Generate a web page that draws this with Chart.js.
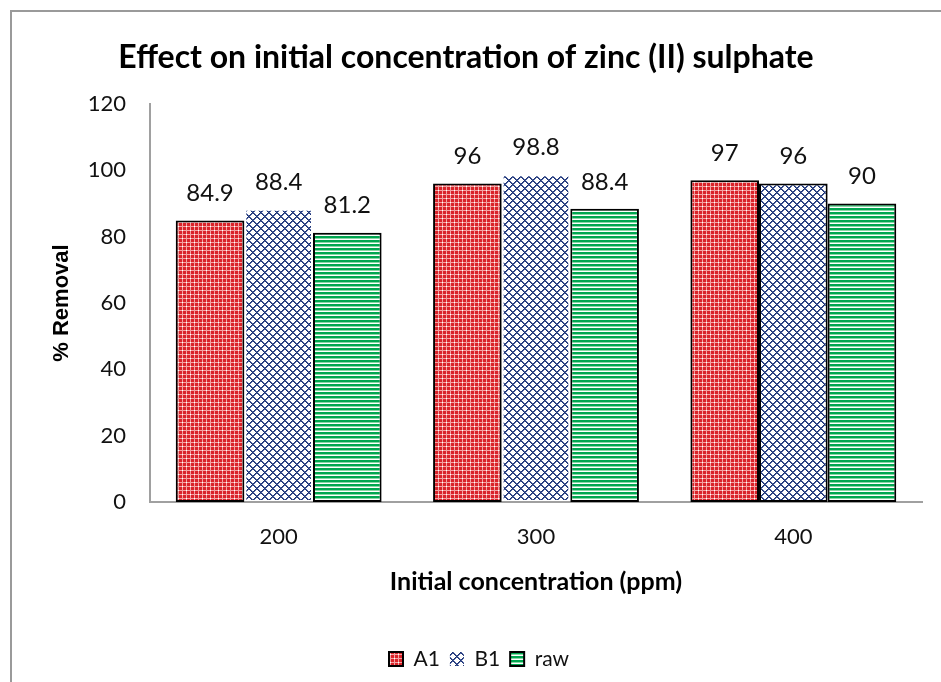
<!DOCTYPE html>
<html>
<head>
<meta charset="utf-8">
<script src="https://cdn.jsdelivr.net/npm/chart.js@4"></script>
<style>
  html, body { margin: 0; padding: 0; background: #ffffff; }
  #wrap { width: 941px; height: 682px; }
</style>
</head>
<body>
<div id="wrap"><canvas id="c" width="941" height="682"></canvas></div>
<script>
// ---- data ----
const categories = ['200', '300', '400'];
const seriesNames = ['A1', 'B1', 'raw'];
const a1Values = [84.9, 96, 97];
const b1Values = [88.4, 98.8, 96];
const rawValues = [81.2, 88.4, 90];
const yTicks = [0, 20, 40, 60, 80, 100, 120];
const chartTitle = 'Effect on initial concentration of zinc (II) sulphate';
const xTitle = 'Initial concentration (ppm)';
const yTitle = '% Removal';

// ---- patterns ----
const canvas = document.getElementById('c');
const ctx = canvas.getContext('2d');
function makePattern(w, h, fn) {
  const c = document.createElement('canvas');
  c.width = w; c.height = h;
  const x = c.getContext('2d');
  for (let j = 0; j < h; j++) {
    for (let i = 0; i < w; i++) {
      const col = fn(i, j);
      if (col) { x.fillStyle = col; x.fillRect(i, j, 1, 1); }
    }
  }
  return ctx.createPattern(c, 'repeat');
}
const patA1 = makePattern(8, 8, (i, j) => {
  if ((i % 8 === 6 && j % 8 === 6) || (i % 8 === 2 && j % 8 === 2)) return '#ffffff';
  if (i % 4 === 2 || j % 4 === 2) return '#f3a3a3';
  return '#d9232a';
});
const patB1 = makePattern(8, 8, (i, j) => {
  const d1 = (i + j) % 8, d2 = (i - j + 8) % 8;
  if (d1 === 0 || d2 === 0) return '#1a3070';
  if (d1 === 1 || d2 === 1) return '#4c619f';
  return '#ffffff';
});
const patRaw = makePattern(4, 4, (i, j) => {
  const m = j % 4;
  if (m === 0 || m === 1) return '#00a650';
  if (m === 2) return '#86d8a4';
  return '#ffffff';
});

// ---- plugins ----
const framePlugin = {
  id: 'frame',
  beforeDraw(chart) {
    const c = chart.ctx;
    c.save();
    c.fillStyle = '#ffffff';
    c.fillRect(0, 0, chart.width, chart.height);
    c.strokeStyle = '#9a9a9a';
    c.lineWidth = 2;
    c.beginPath();
    c.moveTo(11, chart.height);
    c.lineTo(11, 11);
    c.lineTo(chart.width, 11);
    c.stroke();
    c.restore();
  }
};
const legendShift = {
  id: 'legendShift',
  afterLayout(chart) {
    if (chart.legend) { chart.legend.left += 13; chart.legend.right += 13; }
  }
};
const valueLabels = {
  id: 'valueLabels',
  afterDatasetsDraw(chart) {
    const c = chart.ctx;
    c.save();
    c.font = '24px Lato';
    c.fillStyle = '#111111';
    c.textAlign = 'center';
    c.textBaseline = 'middle';
    chart.data.datasets.forEach((ds, di) => {
      const meta = chart.getDatasetMeta(di);
      meta.data.forEach((el, i) => {
        c.fillText(String(ds.data[i]), el.x, el.y - 27);
      });
    });
    c.restore();
  }
};

new Chart(canvas, {
  type: 'bar',
  data: {
    labels: categories,
    datasets: [
      { label: seriesNames[0], data: a1Values, backgroundColor: patA1, borderColor: '#000000', borderWidth: 2, borderSkipped: false },
      { label: seriesNames[1], data: b1Values, backgroundColor: patB1, borderColor: ['rgba(0,0,0,0)', 'rgba(0,0,0,0)', '#000000'], borderWidth: 2, borderSkipped: false },
      { label: seriesNames[2], data: rawValues, backgroundColor: patRaw, borderColor: '#000000', borderWidth: 2, borderSkipped: false }
    ]
  },
  options: {
    responsive: false,
    devicePixelRatio: 1,
    animation: false,
    layout: { padding: { left: 10, right: 19, top: 0, bottom: 2.5 } },
    datasets: { bar: { categoryPercentage: 0.8, barPercentage: 1.0 } },
    plugins: {
      title: {
        display: true,
        text: chartTitle,
        color: '#000000',
        font: { family: 'Lato', size: 32, weight: 'bold', lineHeight: 1.2 },
        padding: { top: 38, bottom: 27.6 }
      },
      legend: {
        position: 'bottom',
        labels: {
          color: '#111111',
          font: { family: 'Lato', size: 21 },
          boxWidth: 14, boxHeight: 14,
          padding: 10
        }
      },
      tooltip: { enabled: false }
    },
    scales: {
      x: {
        grid: { display: false, drawTicks: false, tickLength: 0 },
        border: { display: true, color: '#a0a0a0', width: 2 },
        ticks: { color: '#111111', font: { family: 'Lato', size: 22 }, padding: 22 },
        title: {
          display: true, text: xTitle, color: '#000000',
          font: { family: 'Lato', size: 25, weight: 'bold', lineHeight: 1.2 },
          padding: { top: 0, bottom: 41.5 }
        },
        afterFit(s) { s.height = 136.5; }
      },
      y: {
        min: 0, max: 120,
        afterBuildTicks(s) { s.ticks = yTicks.map(v => ({ value: v })); },
        grid: { display: false, drawTicks: false, tickLength: 0 },
        border: { display: true, color: '#a0a0a0', width: 2 },
        ticks: { color: '#111111', font: { family: 'Lato', size: 22 }, padding: 24 },
        title: {
          display: true, text: yTitle, color: '#000000',
          font: { family: 'Liberation Sans', size: 22, weight: 'bold', lineHeight: 1.2 },
          padding: { top: 39, bottom: 0 }
        },
        afterFit(s) { s.width = 140; }
      }
    }
  },
  plugins: [framePlugin, legendShift, valueLabels]
});
</script>
</body>
</html>
